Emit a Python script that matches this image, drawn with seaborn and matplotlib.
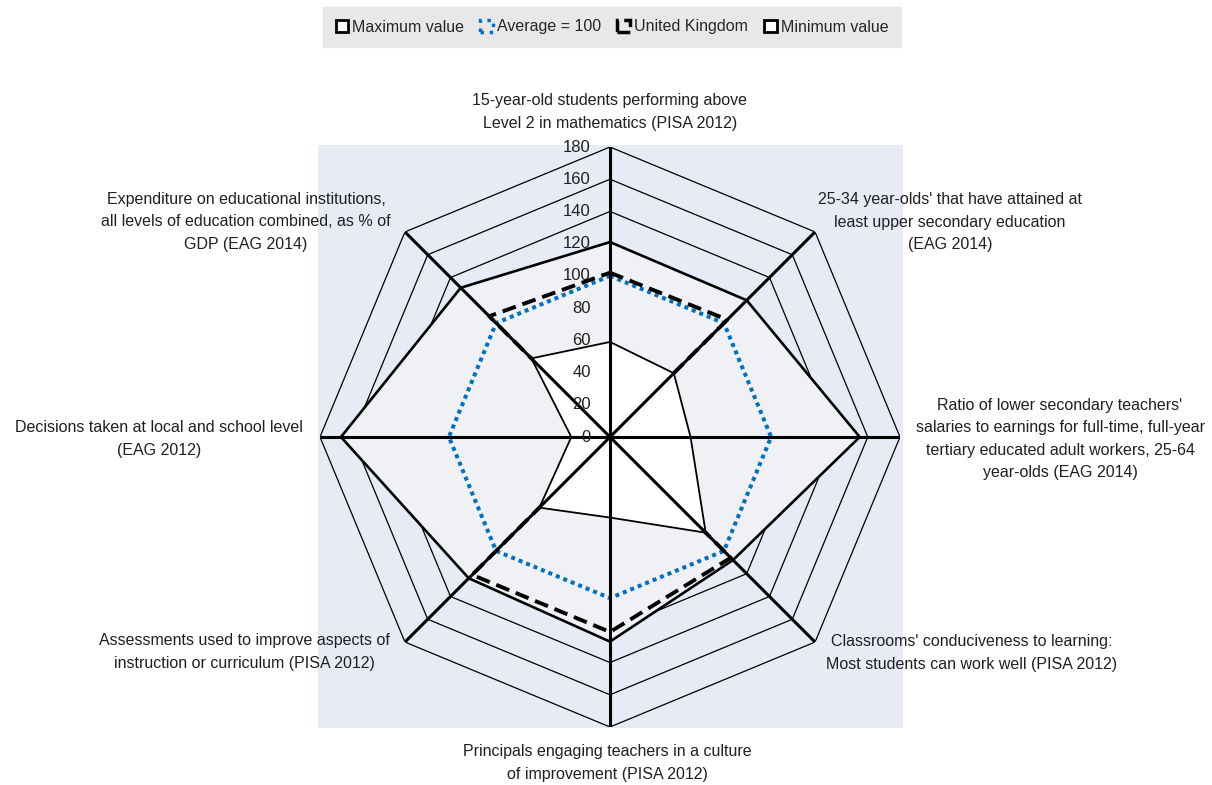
import numpy as np
import pandas as pd
import matplotlib
matplotlib.use("Agg")
import matplotlib.pyplot as plt
import matplotlib.transforms as mtransforms
from matplotlib.patches import Patch
from matplotlib import font_manager
import seaborn as sns

# categories, clockwise from the top
categories = [
    "15-year-old students performing above\nLevel 2 in mathematics (PISA 2012)",
    "25-34 year-olds' that have attained at\nleast upper secondary education\n(EAG 2014)",
    "Ratio of lower secondary teachers'\nsalaries to earnings for full-time, full-year\ntertiary educated adult workers, 25-64\nyear-olds (EAG 2014)",
    "Classrooms' conduciveness to learning:\nMost students can work well (PISA 2012)",
    "Principals engaging teachers in a culture\nof improvement (PISA 2012)",
    "Assessments used to improve aspects of\ninstruction or curriculum (PISA 2012)",
    "Decisions taken at local and school level\n(EAG 2012)",
    "Expenditure on educational institutions,\nall levels of education combined, as % of\nGDP (EAG 2014)",
]
max_values = [121, 120, 155, 108, 127, 124, 167, 131]
avg_values = [100, 100, 100, 100, 100, 100, 100, 100]
uk_values = [102, 103, 0, 106, 121, 121, 0, 106]
min_values = [59, 56, 50, 84, 50, 62, 24, 69]
ring_levels = [0, 20, 40, 60, 80, 100, 120, 140, 160, 180]

# label centres in pixels (x, y from top)
label_pos = [(610, 112), (950, 222), (1060, 439), (972, 653),
             (607, 763), (244, 652), (159, 439), (246, 222)]

W, H = 1212, 785
sns.set_theme(style="white")
installed = {f.name for f in font_manager.fontManager.ttflist}
if "Liberation Sans Narrow" in installed:
    plt.rcParams["font.family"] = ["Liberation Sans Narrow", "DejaVu Sans"]
    fs = 13
else:
    plt.rcParams["font.family"] = ["Liberation Sans", "DejaVu Sans"]
    fs = 11.5

blue = "#0070c0"
txt = "#231f20"
n = len(categories)
theta = np.linspace(0, 2 * np.pi, n, endpoint=False)
theta_c = np.append(theta, 2 * np.pi)


def closed(vals):
    return np.append(vals, vals[0])


df = pd.DataFrame({
    "theta": theta_c,
    "max": closed(max_values),
    "avg": closed(avg_values),
    "uk": closed(uk_values),
    "min": closed(min_values),
})

fig = plt.figure(figsize=(W / 100, H / 100), dpi=100)

# light blue plot area
bg = fig.add_axes([318 / W, 1 - 728 / H, 585 / W, 583 / H])
bg.set_facecolor("#e6ebf5")
bg.set_xticks([])
bg.set_yticks([])
for s in bg.spines.values():
    s.set_visible(False)

cx, cy, R = 610, 437, 290
ax = fig.add_axes([(cx - R) / W, (H - cy - R) / H, 2 * R / W, 2 * R / H], projection="polar")
ax.set_theta_zero_location("N")
ax.set_theta_direction(-1)
ax.set_ylim(0, 180)
ax.grid(False)
ax.set_xticks([])
ax.set_yticks([])
ax.spines["polar"].set_visible(False)
ax.patch.set_alpha(0)

# octagon rings
for lvl in ring_levels[1:]:
    ax.plot(theta_c, [lvl] * (n + 1), color="black", lw=0.9, zorder=1)

# max area
ax.fill(df["theta"], df["max"], color="#f0f1f4", zorder=2, lw=0)
sns.lineplot(data=df, x="theta", y="max", sort=False, estimator=None, ax=ax,
             color="black", lw=1.9, zorder=4, legend=False)

sns.lineplot(data=df, x="theta", y="avg", sort=False, estimator=None, ax=ax,
             color=blue, lw=2.9, zorder=3, legend=False)
ax.lines[-1].set_linestyle((0, (1, 1)))

sns.lineplot(data=df, x="theta", y="uk", sort=False, estimator=None, ax=ax,
             color="black", lw=2.8, zorder=3, legend=False)
ax.lines[-1].set_linestyle((0, (3.6, 1.8)))

# min area
ax.fill(df["theta"], df["min"], color="white", zorder=5, lw=0)
sns.lineplot(data=df, x="theta", y="min", sort=False, estimator=None, ax=ax,
             color="black", lw=1.3, zorder=5, legend=False)

# spokes
for t in theta:
    ax.plot([t, t], [0, 180], color="black", lw=2.2, zorder=6, solid_capstyle="butt")

ax.set_xlabel("")
ax.set_ylabel("")

# radial tick labels
off = mtransforms.offset_copy(ax.transData, fig=fig, x=-19, y=0, units="dots")
for lvl in ring_levels:
    ax.text(0, lvl, str(lvl), transform=off, ha="right", va="center",
            fontsize=fs + 0.5, color=txt, zorder=7)

# category labels
for lab, (x, y) in zip(categories, label_pos):
    fig.text(x / W, 1 - y / H, lab, ha="center", va="center", ma="center",
             fontsize=fs, color=txt, linespacing=1.62)

handles = [
    Patch(facecolor="white", edgecolor="black", linewidth=2, label="Maximum value"),
    Patch(facecolor="none", edgecolor=blue, linewidth=2.5, linestyle=":", label="Average = 100"),
    Patch(facecolor="none", edgecolor="black", linewidth=2.5, linestyle="--", label="United Kingdom"),
    Patch(facecolor="white", edgecolor="black", linewidth=2, label="Minimum value"),
]
fig.legend(handles=handles, loc="center", bbox_to_anchor=(612 / W, 1 - 27 / H), ncol=4,
           frameon=True, fancybox=False, facecolor="#e8e8ea", edgecolor="#e8e8ea",
           framealpha=1, handlelength=0.8, handleheight=0.8, handletextpad=0.25,
           columnspacing=1.0, borderpad=0.8, fontsize=fs)

fig.savefig("out.png", dpi=100)
